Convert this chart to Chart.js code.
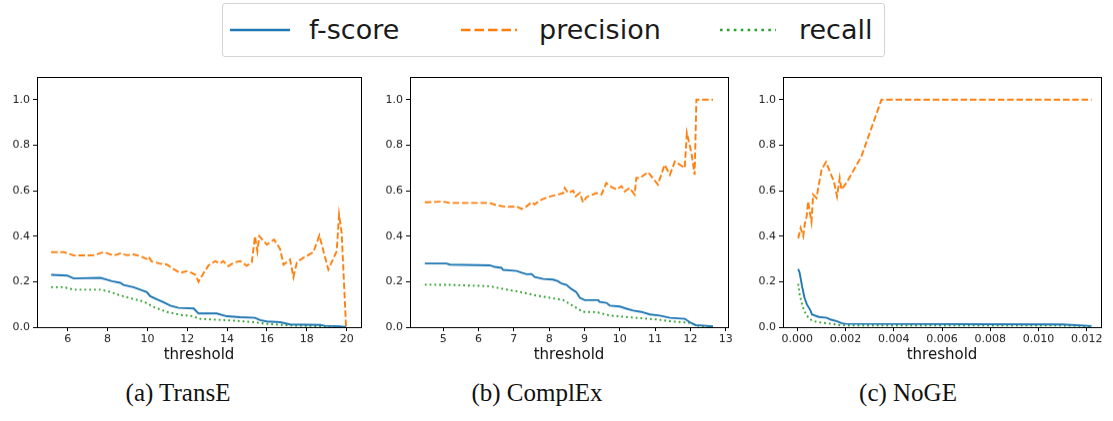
<!DOCTYPE html>
<html>
<head>
<meta charset="utf-8">
<script src="https://cdn.jsdelivr.net/npm/chart.js@4.4.1/dist/chart.umd.min.js"></script>
<style>
  body { margin: 0; background: #fff; width: 1113px; height: 421px; position: relative; overflow: hidden; font-family: "DejaVu Sans", sans-serif; }
  .panel { position: absolute; top: 67px; height: 297px; }
  .legend { position: absolute; left: 222px; top: 3px; width: 663px; height: 54px; border: 1px solid #d4d4d4; border-radius: 3px; box-sizing: border-box; }
  .item { position: absolute; top: 3px; height: 54px; line-height: 54px; font-size: 27px; color: #1a1a1a; white-space: nowrap; }
  .swatch { position: absolute; top: 24px; }
  .caption { position: absolute; top: 379px; font-family: "Liberation Serif", serif; font-size: 25px; color: #111; transform: translateX(-50%); white-space: nowrap; }
</style>
</head>
<body>
<div class="legend"></div>
<svg class="swatch" style="left:230px" width="62" height="12"><line x1="0" y1="6" x2="60" y2="6" stroke="#1f77b4" stroke-width="2.6"/></svg>
<div class="item" style="left:309px">f-score</div>
<svg class="swatch" style="left:461px" width="60" height="12"><line x1="0" y1="6" x2="56" y2="6" stroke="#ff7f0e" stroke-width="2.6" stroke-dasharray="9.5,4"/></svg>
<div class="item" style="left:539px">precision</div>
<svg class="swatch" style="left:720px" width="60" height="12"><line x1="0" y1="6" x2="56" y2="6" stroke="#2ca02c" stroke-width="2.6" stroke-dasharray="2.6,4.3"/></svg>
<div class="item" style="left:799px">recall</div>

<canvas id="c1" class="panel" style="left:0px;width:373px"></canvas>
<canvas id="c2" class="panel" style="left:375px;width:365px"></canvas>
<canvas id="c3" class="panel" style="left:745px;width:368px"></canvas>

<div class="caption" style="left:178px">(a) TransE</div>
<div class="caption" style="left:537px">(b) ComplEx</div>
<div class="caption" style="left:908px">(c) NoGE</div>

<script>
// === Dados: [threshold, valor] ===
const seriesNames = ["f-score", "precision", "recall"];
const seriesColors = ["#1f77b4", "#ff7f0e", "#2ca02c"];
const seriesDash = [[], [6.5, 2.8], [1.8, 3]];

const yTicks = [0, 0.2, 0.4, 0.6, 0.8, 1.0];

// (a) TransE
const transeTicks = [6, 8, 10, 12, 14, 16, 18, 20];
const transeF = [[5.17,0.23],[5.97,0.227],[6.3,0.214],[7.64,0.217],[7.97,0.209],[8.22,0.202],[8.64,0.195],[8.8,0.186],[9.3,0.176],[9.64,0.165],[9.97,0.154],[10.14,0.136],[10.48,0.122],[10.8,0.11],[11.15,0.095],[11.56,0.085],[12.32,0.082],[12.57,0.06],[13.48,0.06],[13.98,0.048],[14.65,0.044],[15.4,0.041],[15.65,0.031],[15.99,0.025],[16.66,0.022],[17.16,0.012],[18.66,0.01],[18.9,0.006],[19.66,0.004],[19.97,0.0]];
const transeP = [[5.17,0.33],[5.8,0.33],[6.3,0.315],[7.3,0.316],[7.8,0.33],[8.3,0.315],[8.64,0.324],[8.97,0.316],[9.3,0.32],[9.64,0.312],[9.97,0.3],[10.06,0.31],[10.2,0.29],[10.6,0.28],[10.98,0.275],[11.3,0.256],[11.65,0.239],[11.98,0.246],[12.2,0.239],[12.4,0.231],[12.57,0.2],[12.7,0.22],[13.07,0.272],[13.4,0.29],[13.65,0.28],[13.8,0.29],[14.07,0.268],[14.32,0.283],[14.65,0.29],[14.99,0.27],[15.24,0.285],[15.4,0.4],[15.52,0.334],[15.62,0.4],[15.99,0.363],[16.36,0.385],[16.66,0.344],[16.83,0.275],[17.16,0.297],[17.33,0.22],[17.5,0.285],[17.83,0.305],[18.33,0.33],[18.63,0.403],[19.08,0.253],[19.5,0.334],[19.62,0.495],[19.75,0.414],[19.97,0.0]];
const transeR = [[5.17,0.176],[5.8,0.176],[6.3,0.165],[7.64,0.165],[8.14,0.155],[8.64,0.139],[9.3,0.124],[9.8,0.113],[10.3,0.089],[10.98,0.067],[11.65,0.054],[12.32,0.048],[12.57,0.037],[14.32,0.029],[15.32,0.022],[15.99,0.015],[16.83,0.009],[17.66,0.006],[19.33,0.003],[19.9,0.001]];

// (b) ComplEx
const complexTicks = [5, 6, 7, 8, 9, 10, 11, 12, 13];
const complexF = [[4.48,0.28],[5.09,0.28],[5.19,0.275],[6.32,0.272],[6.46,0.265],[6.65,0.261],[6.7,0.252],[7.08,0.247],[7.22,0.239],[7.36,0.233],[7.5,0.234],[7.59,0.221],[7.83,0.212],[8.11,0.209],[8.25,0.202],[8.35,0.192],[8.49,0.186],[8.63,0.168],[8.77,0.154],[8.87,0.129],[9.01,0.119],[9.39,0.119],[9.43,0.111],[9.62,0.107],[9.72,0.095],[10.0,0.091],[10.19,0.081],[10.38,0.073],[10.61,0.067],[10.85,0.056],[11.13,0.051],[11.42,0.041],[11.84,0.037],[11.98,0.022],[12.15,0.009],[12.36,0.007],[12.64,0.003]];
const complexP = [[4.48,0.549],[5.0,0.552],[5.19,0.546],[6.32,0.546],[6.51,0.536],[6.7,0.531],[6.89,0.529],[7.08,0.531],[7.22,0.52],[7.36,0.531],[7.5,0.549],[7.59,0.54],[7.74,0.558],[8.02,0.575],[8.25,0.583],[8.4,0.59],[8.44,0.612],[8.54,0.59],[8.68,0.6],[8.75,0.575],[8.87,0.59],[8.96,0.549],[9.06,0.572],[9.34,0.59],[9.48,0.583],[9.62,0.634],[9.72,0.62],[9.91,0.605],[10.05,0.62],[10.14,0.597],[10.28,0.612],[10.42,0.583],[10.47,0.656],[10.57,0.656],[10.8,0.682],[11.08,0.627],[11.27,0.714],[11.42,0.67],[11.56,0.729],[11.84,0.7],[11.9,0.854],[12.03,0.766],[12.12,0.67],[12.17,1.0],[12.64,1.0]];
const complexR = [[4.48,0.187],[5.19,0.186],[6.32,0.18],[6.7,0.168],[7.17,0.155],[7.64,0.139],[8.11,0.127],[8.4,0.119],[8.58,0.102],[8.77,0.085],[8.96,0.067],[9.34,0.066],[9.72,0.051],[10.47,0.041],[11.04,0.034],[11.42,0.026],[11.98,0.019],[12.26,0.004],[12.64,0.001]];

// (c) NoGE
const nogeTicks = [0, 0.002, 0.004, 0.006, 0.008, 0.010, 0.012];
const nogeF = [[0.00004,0.256],[0.0001,0.239],[0.0002,0.18],[0.0003,0.129],[0.0004,0.1],[0.00055,0.073],[0.00061,0.056],[0.00089,0.045],[0.00123,0.041],[0.00137,0.034],[0.00165,0.026],[0.00185,0.017],[0.002,0.015],[0.011,0.012],[0.0122,0.005]];
const nogeP = [[0.00004,0.39],[0.00014,0.436],[0.00025,0.4],[0.00032,0.458],[0.00039,0.487],[0.00045,0.553],[0.00055,0.487],[0.00059,0.463],[0.00066,0.583],[0.0008,0.568],[0.00087,0.612],[0.00101,0.693],[0.00119,0.726],[0.00152,0.641],[0.00165,0.575],[0.00176,0.656],[0.00183,0.605],[0.00204,0.634],[0.00266,0.751],[0.00349,1.0],[0.0122,1.0]];
const nogeR = [[0.00004,0.19],[0.0001,0.143],[0.00022,0.092],[0.00036,0.056],[0.00053,0.034],[0.0008,0.023],[0.00123,0.017],[0.00178,0.009],[0.002,0.008],[0.011,0.007],[0.0122,0.004]];

// === Moldura do gráfico (spines do matplotlib) ===
const frame = {
  id: "frame",
  afterDraw(chart) {
    const a = chart.chartArea, c = chart.ctx;
    c.save();
    c.strokeStyle = "#000";
    c.lineWidth = 1;
    c.strokeRect(Math.round(a.left) + 0.5, Math.round(a.top) + 0.5, Math.round(a.right - a.left), Math.round(a.bottom - a.top));
    c.restore();
  }
};

function criarGrafico(id, series, xMin, xMax, xTicks, casas, larguraY) {
  const datasets = series.map((pts, i) => ({
    label: seriesNames[i],
    data: pts.map(p => ({ x: p[0], y: p[1] })),
    borderColor: seriesColors[i],
    borderDash: seriesDash[i],
    borderWidth: 1.9,
    pointRadius: 0,
    fill: false,
    tension: 0,
  }));

  new Chart(document.getElementById(id), {
    type: "line",
    data: { datasets },
    plugins: [frame],
    options: {
      responsive: false,
      animation: false,
      events: [],
      layout: { padding: { top: 10, right: 12, left: 0, bottom: 0 } },
      plugins: { legend: { display: false }, tooltip: { enabled: false } },
      scales: {
        x: {
          type: "linear",
          min: xMin,
          max: xMax,
          afterBuildTicks: s => { s.ticks = xTicks.map(v => ({ value: v })); },
          afterFit: s => { s.height = 37; },
          grid: { drawOnChartArea: false, drawTicks: true, tickLength: 4, color: "#000" },
          border: { display: false },
          ticks: {
            autoSkip: false, maxRotation: 0, padding: 2, color: "#222",
            font: { family: "DejaVu Sans", size: 11 },
            callback: v => v.toFixed(casas),
          },
          title: { display: true, text: "threshold", color: "#111", padding: 0, font: { family: "DejaVu Sans", size: 15 } },
        },
        y: {
          min: 0,
          max: 1.1,
          afterBuildTicks: s => { s.ticks = yTicks.map(v => ({ value: v })); },
          afterFit: s => { s.width = larguraY; },
          grid: { drawOnChartArea: false, drawTicks: true, tickLength: 4, color: "#000" },
          border: { display: false },
          ticks: { padding: 3, color: "#222", font: { family: "DejaVu Sans", size: 11 }, callback: v => v.toFixed(1) },
        },
      },
    },
  });
}

function dimensionar(id) {
  const el = document.getElementById(id);
  el.width = parseInt(el.style.width);
  el.height = 298;
}
["c1", "c2", "c3"].forEach(dimensionar);

criarGrafico("c1", [transeF, transeP, transeR], 4.46, 20.72, transeTicks, 0, 37);
criarGrafico("c2", [complexF, complexP, complexR], 4.06, 13.065, complexTicks, 0, 35);
criarGrafico("c3", [nogeF, nogeP, nogeR], -0.00059, 0.01259, nogeTicks, 3, 38);
</script>
</body>
</html>
